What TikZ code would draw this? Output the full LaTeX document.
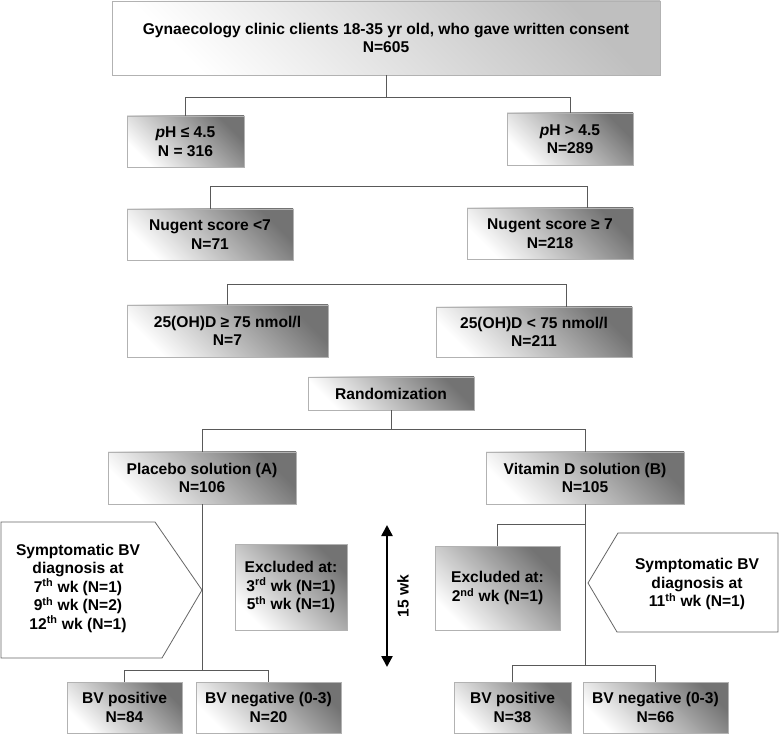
\documentclass[tikz,border=0pt]{standalone}
\usepackage{fontspec}
\setmainfont{Liberation Sans}
\usetikzlibrary{arrows.meta}

\begin{document}
\begin{tikzpicture}[x=1pt,y=-1pt,font=\fontsize{15.6}{18.5}\selectfont\bfseries,
  box/.style={draw=black!30,line width=0.8pt,top color=black!55,bottom color=white,shading angle=-45,align=center,inner sep=0pt},
  topbox/.style={box,top color=black!25,bottom color=white,shading angle=-45},
  link/.style={draw=black!65,line width=0.9pt},
  callout/.style={draw=black!60,line width=0.8pt,fill=white}]
\useasboundingbox (0,0) rectangle (780,735);
\node[topbox,minimum width=548,minimum height=74] (top) at (386,38) {Gynaecology clinic clients 18-35 yr old, who gave written consent\\N=605};
\node[box,minimum width=117,minimum height=51] (phlo) at (185.5,141.5) {\textit{p}H ≤ 4.5\\N = 316};
\node[box,minimum width=126,minimum height=52] (phhi) at (570,139) {\textit{p}H > 4.5\\N=289};
\node[box,minimum width=166,minimum height=51] (nuglo) at (210,234.5) {Nugent score <7\\N=71};
\node[box,minimum width=166,minimum height=51] (nughi) at (550,233.5) {Nugent score ≥ 7\\N=218};
\node[box,minimum width=201,minimum height=52] (dhi) at (227.5,331) {25(OH)D ≥ 75 nmol/l\\N=7};
\node[box,minimum width=196,minimum height=50] (dlo) at (534,332) {25(OH)D < 75 nmol/l\\N=211};
\node[box,minimum width=166,minimum height=33] (rand) at (391,393.5) {Randomization};
\node[box,minimum width=188,minimum height=52] (plac) at (202,478) {Placebo solution (A)\\N=106};
\node[box,minimum width=198,minimum height=52] (vitd) at (585,478) {Vitamin D solution (B)\\N=105};
\node[box,minimum width=112,minimum height=86] (exclA) at (291,587) {Excluded at:\\3\textsuperscript{rd} wk (N=1)\\5\textsuperscript{th} wk (N=1)};
\node[box,minimum width=125,minimum height=84] (exclB) at (497.5,588) {Excluded at:\\2\textsuperscript{nd} wk (N=1)};
\node[box,minimum width=115,minimum height=51] (bvposA) at (124.5,707.5) {BV positive\\N=84};
\node[box,minimum width=145,minimum height=51] (bvnegA) at (268.5,707.5) {BV negative (0-3)\\N=20};
\node[box,minimum width=117,minimum height=51] (bvposB) at (512.5,707.5) {BV positive\\N=38};
\node[box,minimum width=145,minimum height=51] (bvnegB) at (655.5,707.5) {BV negative (0-3)\\N=66};
% callouts
\draw[callout] (1,522) -- (155,522) -- (202,590) -- (162,658) -- (1,658) -- cycle;
\node[align=center] (sympA) at (78,588) {Symptomatic BV\\diagnosis at\\7\textsuperscript{th} wk (N=1)\\9\textsuperscript{th} wk (N=2)\\12\textsuperscript{th} wk (N=1)};
\draw[callout] (588,583) -- (618,533) -- (778,533) -- (778,632) -- (617,632) -- cycle;
\node[align=center] (sympB) at (697,584) {Symptomatic BV\\diagnosis at\\11\textsuperscript{th} wk (N=1)};
% links
\draw[link] (top.south) -- ++(0,22) coordinate (jtop);
\draw[link] (phlo.north) |- (jtop) -| (phhi.north);
\coordinate (jnug) at (587,186);
\draw[link] (nuglo.north) |- (jnug) -- (jnug |- nughi.north);
\coordinate (jd) at (566,284);
\draw[link] (dhi.north) |- (jd) -- (jd |- dlo.north);
\draw[link] (rand.south) -- ++(0,19) coordinate (jrand);
\draw[link] (plac.north) |- (jrand) -| (vitd.north);
\draw[link] (plac.south) -- ++(0,166) coordinate (jplac);
\draw[link] (bvposA.north) |- (jplac) -| (bvnegA.north);
\draw[link] (vitd.south) -- ++(0,161) coordinate (jvit);
\draw[link] (bvposB.north) |- (jvit) -| (bvnegB.north);
\coordinate (jexcl) at (585,524);
\draw[link] (exclB.north) |- (jexcl);
% time arrow
\coordinate (wtop) at (387,525);
\coordinate (wbot) at (387,667);
\draw[line width=2.4pt,{Triangle[width=11pt,length=11pt]}-{Triangle[width=11pt,length=11pt]}] (wtop) -- (wbot);
\node[rotate=90] (wk) at (403,596) {15 wk};
\end{tikzpicture}
\end{document}
